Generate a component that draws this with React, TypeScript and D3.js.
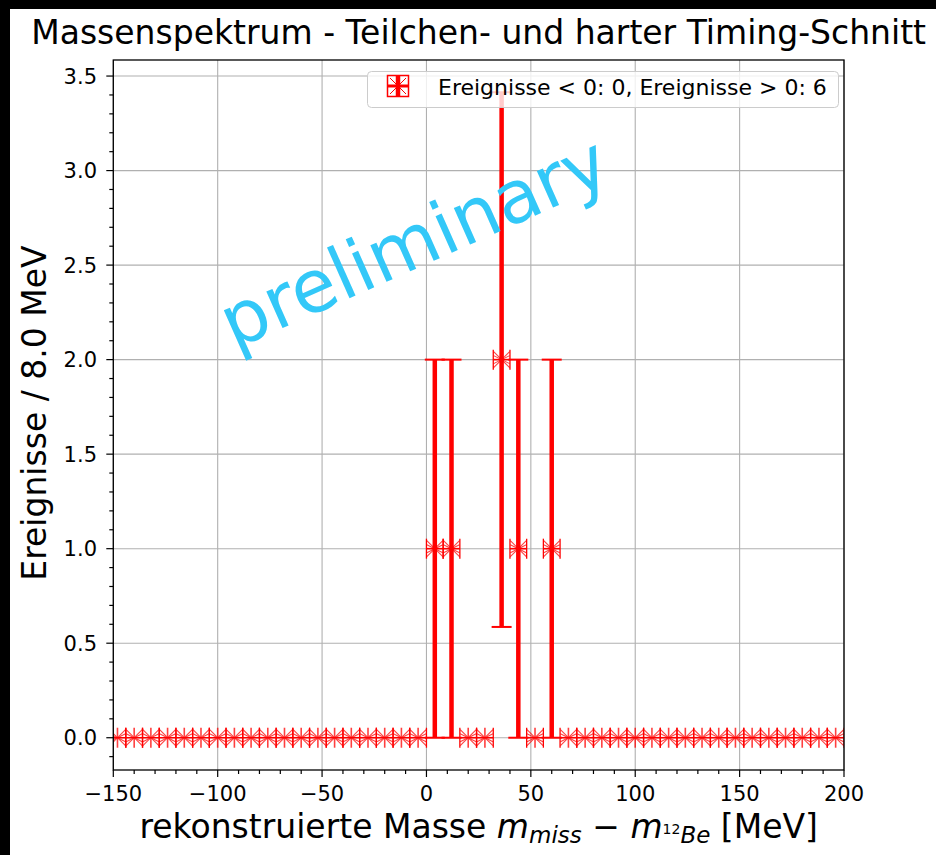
import React from "react";
import * as d3 from "d3";

const binCenters = [
  -148, -140, -132, -124, -116, -108, -100, -92, -84, -76, -68, -60, -52, -44,
  -36, -28, -20, -12, -4, 4, 12, 20, 28, 36, 44, 52, 60, 68, 76, 84, 92, 100,
  108, 116, 124, 132, 140, 148, 156, 164, 172, 180, 188, 196,
];
const counts = [
  0, 0, 0, 0, 0, 0, 0, 0, 0, 0, 0, 0, 0, 0, 0, 0, 0, 0, 0, 1, 1, 0, 0, 2, 1, 0,
  1, 0, 0, 0, 0, 0, 0, 0, 0, 0, 0, 0, 0, 0, 0, 0, 0, 0,
];
const countErrors = [
  0, 0, 0, 0, 0, 0, 0, 0, 0, 0, 0, 0, 0, 0, 0, 0, 0, 0, 0, 1, 1, 0, 0, 1.414, 1,
  0, 1, 0, 0, 0, 0, 0, 0, 0, 0, 0, 0, 0, 0, 0, 0, 0, 0, 0,
];
const binHalfWidth = 4;
const xMajorTicks = [-150, -100, -50, 0, 50, 100, 150, 200];
const xMinorTicks = [
  -140, -130, -120, -110, -90, -80, -70, -60, -40, -30, -20, -10, 10, 20, 30, 40,
  60, 70, 80, 90, 110, 120, 130, 140, 160, 170, 180, 190,
];
const yMajorTicks = [0, 0.5, 1.0, 1.5, 2.0, 2.5, 3.0, 3.5];
const titleText = "Massenspektrum - Teilchen- und harter Timing-Schnitt";
const yLabelText = "Ereignisse / 8.0 MeV";
const legendText = "Ereignisse < 0: 0, Ereignisse > 0: 6";
const watermark = "preliminary";

const FONT = "'DejaVu Sans', sans-serif";
const RED = "#ff0000";

export default function App() {
  const L = 113.3, R = 844, T = 60, B = 770;
  const x = d3.scaleLinear().domain([-150, 200]).range([L, R]);
  const y = d3.scaleLinear().domain([-0.1707, 3.5849]).range([B, T]);
  const yMinor = d3.range(-1, 36).map((i) => i / 10).filter((v) => v >= -0.17 && v <= 3.58 && Math.abs(v * 2 - Math.round(v * 2)) > 1e-6);
  const fmtX = (v: number) => (v < 0 ? "\u2212" + Math.abs(v) : String(v));
  const fmtY = (v: number) => v.toFixed(1);

  return (
    <svg
      width={936}
      height={855}
      style={{ position: "absolute", left: 0, top: 0 }}
      fontFamily={FONT}
    >
      <defs>
        <clipPath id="plotclip">
          <rect x={L} y={T} width={R - L} height={B - T} />
        </clipPath>
      </defs>
      <rect x={0} y={0} width={936} height={855} fill="#000" />
      <rect x={10} y={9} width={926} height={846} fill="#fff" />

      {/* grid */}
      <g stroke="#b0b0b0" strokeWidth={1.1}>
        {xMajorTicks.map((t) => (
          <line key={"gx" + t} x1={x(t)} x2={x(t)} y1={T} y2={B} />
        ))}
        {yMajorTicks.map((t) => (
          <line key={"gy" + t} x1={L} x2={R} y1={y(t)} y2={y(t)} />
        ))}
      </g>

      {/* data */}
      <g clipPath="url(#plotclip)" stroke={RED} fill="none">
        {binCenters.map((c, i) => {
          const v = counts[i];
          const e = countErrors[i];
          const cx = x(c);
          const cy = y(v);
          const xl = x(c - binHalfWidth);
          const xr = x(c + binHalfWidth);
          return (
            <g key={"b" + i}>
              <line x1={xl} x2={xr} y1={cy} y2={cy} strokeWidth={1.6} />
              <line x1={xl} x2={xl} y1={cy - 10} y2={cy + 10} strokeWidth={1.3} />
              <line x1={xr} x2={xr} y1={cy - 10} y2={cy + 10} strokeWidth={1.3} />
              {e > 0 && (
                <g>
                  <line x1={cx} x2={cx} y1={y(v - e)} y2={y(v + e)} strokeWidth={4.5} />
                  <line x1={cx - 10} x2={cx + 10} y1={y(v - e)} y2={y(v - e)} strokeWidth={2} />
                  <line x1={cx - 10} x2={cx + 10} y1={y(v + e)} y2={y(v + e)} strokeWidth={2} />
                </g>
              )}
              <g strokeWidth={1.1} opacity={0.75}>
                <line x1={cx - 8} x2={cx + 8} y1={cy - 8} y2={cy + 8} />
                <line x1={cx - 8} x2={cx + 8} y1={cy + 8} y2={cy - 8} />
                <line x1={cx} x2={cx} y1={cy - 10} y2={cy + 10} strokeWidth={1.6} />
                <line x1={cx - 8} x2={cx} y1={cy - 4} y2={cy} />
                <line x1={cx - 8} x2={cx} y1={cy + 4} y2={cy} />
                <line x1={cx + 8} x2={cx} y1={cy - 4} y2={cy} />
                <line x1={cx + 8} x2={cx} y1={cy + 4} y2={cy} />
              </g>
            </g>
          );
        })}
      </g>

      {/* spines */}
      <rect x={L} y={T} width={R - L} height={B - T} fill="none" stroke="#000" strokeWidth={1.3} />

      {/* ticks */}
      <g stroke="#000" strokeWidth={1.2}>
        {xMajorTicks.map((t) => (
          <line key={"xt" + t} x1={x(t)} x2={x(t)} y1={B} y2={B + 7} />
        ))}
        {xMinorTicks.map((t) => (
          <line key={"xm" + t} x1={x(t)} x2={x(t)} y1={B} y2={B + 4} />
        ))}
        {yMajorTicks.map((t) => (
          <line key={"yt" + t} x1={L - 7} x2={L} y1={y(t)} y2={y(t)} />
        ))}
        {yMinor.map((t) => (
          <line key={"ym" + t} x1={L - 4} x2={L} y1={y(t)} y2={y(t)} />
        ))}
      </g>
      <g fontSize={21} fill="#000">
        {xMajorTicks.map((t) => (
          <text key={"xl" + t} x={x(t)} y={801} textAnchor="middle">
            {fmtX(t)}
          </text>
        ))}
        {yMajorTicks.map((t) => (
          <text key={"yl" + t} x={97} y={y(t) + 7.5} textAnchor="end">
            {fmtY(t)}
          </text>
        ))}
      </g>

      {/* title */}
      <text x={(L + R) / 2} y={44} textAnchor="middle" fontSize={33} fill="#000">
        {titleText}
      </text>

      {/* y label */}
      <text
        transform={`translate(46, ${(T + B) / 2 - 2}) rotate(-90)`}
        textAnchor="middle"
        fontSize={33}
        fill="#000"
      >
        {yLabelText}
      </text>

      {/* x label */}
      <text x={(L + R) / 2} y={838} textAnchor="middle" fontSize={33} fill="#000">
        <tspan>rekonstruierte Masse </tspan>
        <tspan fontStyle="italic">m</tspan>
        <tspan fontStyle="italic" fontSize={23} dy={5}>miss</tspan>
        <tspan dy={-5}> {"\u2212"} </tspan>
        <tspan fontStyle="italic">m</tspan>
        <tspan fontSize={14} dy={-4}>12</tspan>
        <tspan fontStyle="italic" fontSize={23} dy={9}>Be</tspan>
        <tspan dy={-5}> [MeV]</tspan>
      </text>

      {/* legend */}
      <rect x={367.5} y={71.5} width={471} height={36} rx={4} fill="#fff" fillOpacity={0.8} stroke="#cccccc" strokeWidth={1} />
      <g stroke={RED} fill="none">
        <rect x={387.5} y={75.5} width={21} height={21} strokeWidth={1.5} />
        <line x1={398} x2={398} y1={75} y2={97} strokeWidth={4.5} />
        <line x1={387} x2={409} y1={86} y2={86} strokeWidth={3} />
        <line x1={390} x2={406} y1={78} y2={94} strokeWidth={1} />
        <line x1={390} x2={406} y1={94} y2={78} strokeWidth={1} />
      </g>
      <text x={438} y={95} fontSize={22} fill="#000">
        {legendText}
      </text>

      {/* watermark */}
      <text
        transform="translate(424, 265) rotate(-24)"
        textAnchor="middle"
        fontSize={73}
        fill="#33c8f8"
      >
        {watermark}
      </text>
    </svg>
  );
}
